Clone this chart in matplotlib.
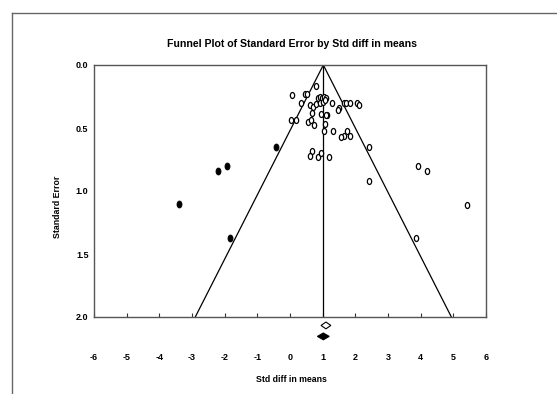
import matplotlib
matplotlib.use("Agg")
import matplotlib.pyplot as plt
import numpy as np
from matplotlib.path import Path
from matplotlib.lines import Line2D

# ---- data ----
observed_x = [0.79, 0.06, 0.45, 0.53, 0.85, 0.92, 0.99, 1.05, 1.09, 0.34,
              0.61, 0.71, 0.80, 0.92, 1.02, 1.07, 1.28, 1.65, 1.72, 1.84,
              2.06, 2.11, 1.50, 1.46, 0.68, 0.95, 1.14, 1.10, 0.02, 0.18,
              0.56, 0.63, 0.73, 1.08, 1.04, 1.33, 1.73, 1.65, 1.57, 1.84,
              2.43, 0.68, 0.61, 0.87, 0.95, 1.20, 3.91, 4.20, 2.42, 5.41, 3.85]
observed_se = [0.17, 0.24, 0.23, 0.23, 0.26, 0.25, 0.26, 0.25, 0.26, 0.30,
               0.32, 0.33, 0.31, 0.30, 0.29, 0.28, 0.30, 0.30, 0.30, 0.30,
               0.30, 0.32, 0.34, 0.36, 0.38, 0.39, 0.40, 0.40, 0.44, 0.44,
               0.45, 0.44, 0.48, 0.47, 0.52, 0.52, 0.52, 0.56, 0.57, 0.56,
               0.65, 0.68, 0.72, 0.73, 0.70, 0.73, 0.80, 0.84, 0.92, 1.11, 1.37]
imputed_x = [-0.43, -1.92, -2.19, -3.40, -1.84]
imputed_se = [0.65, 0.80, 0.84, 1.10, 1.37]

summary_mean = 1.02          # funnel centre
obs_summary = (1.10, 0.95, 1.25)   # estimate, lower, upper
adj_summary = (1.02, 0.84, 1.20)

x_ticks = [-6, -5, -4, -3, -2, -1, 0, 1, 2, 3, 4, 5, 6]
y_ticks = [0.0, 0.5, 1.0, 1.5, 2.0]
se_max = 2.0

FONT = ['Liberation Sans Narrow', 'Liberation Sans', 'DejaVu Sans']

fig = plt.figure(figsize=(5.57, 3.94), dpi=100)
ax = fig.add_axes([94/557, 1-317/394, (486-94)/557, (317-65)/394])

# ellipse marker (taller than wide)
t = np.linspace(0, 2*np.pi, 40)
ell = Path(np.column_stack([0.72*np.cos(t), np.sin(t)]), closed=True)

ax.plot(observed_x, observed_se, linestyle='none', marker=ell, markersize=4.3,
        markerfacecolor='white', markeredgecolor='black', markeredgewidth=0.9, zorder=3)
ax.plot(imputed_x, imputed_se, linestyle='none', marker=ell, markersize=5.0,
        markerfacecolor='black', markeredgecolor='black', markeredgewidth=0.6, zorder=3)

# funnel
ax.plot([summary_mean - 1.96*se_max, summary_mean, summary_mean + 1.96*se_max],
        [se_max, 0, se_max], color='black', lw=0.9, zorder=2)
ax.plot([summary_mean, summary_mean], [0, se_max], color='black', lw=0.9, zorder=2)

# summary diamonds below the axis
def diamond(est, lo, hi, yc, h, filled):
    xs = [lo, est, hi, est, lo]
    ys = [yc, yc - h, yc, yc + h, yc]
    ax.fill(xs, ys, facecolor='black' if filled else 'white', edgecolor='black',
            lw=0.8, clip_on=False, zorder=4)

diamond(*obs_summary, 2.067, 0.027, False)
diamond(*adj_summary, 2.154, 0.027, True)

ax.set_xlim(-6, 6)
ax.set_ylim(2.0, 0.0)
ax.set_xticks(x_ticks)
ax.set_xticklabels([str(v) for v in x_ticks])
ax.set_yticks(y_ticks)
ax.set_yticklabels([f"{v:.1f}" for v in y_ticks])
ax.tick_params(axis='x', direction='in', length=3, width=0.8, pad=26, labelsize=6.5, colors='#333333')
ax.tick_params(axis='y', length=0, pad=4, labelsize=6.5, colors='#333333')
for lab in ax.get_xticklabels() + ax.get_yticklabels():
    lab.set_fontfamily(FONT)
    lab.set_fontweight('bold')
    lab.set_color('black')
for s in ax.spines.values():
    s.set_color('#555555')
    s.set_linewidth(1.0)

fig.text(291.7/557, 1-44/394, "Funnel Plot of Standard Error by Std diff in means",
         ha='center', va='center', fontsize=7.6, fontweight='bold', family=FONT)
fig.text(291.7/557, 1-379/394, "Std diff in means", ha='center', va='center',
         fontsize=6.3, fontweight='bold', family=FONT)
fig.text(57/557, 1-207/394, "Standard Error", ha='center', va='center', rotation=90,
         fontsize=6.3, fontweight='bold', family=FONT)

# outer frame lines
fig.add_artist(Line2D([12/557, 1], [1-13/394, 1-13/394], color='#666666', lw=1.0))
fig.add_artist(Line2D([12/557, 12/557], [0, 1-13/394], color='#666666', lw=1.0))

fig.savefig("out.png", dpi=100)
